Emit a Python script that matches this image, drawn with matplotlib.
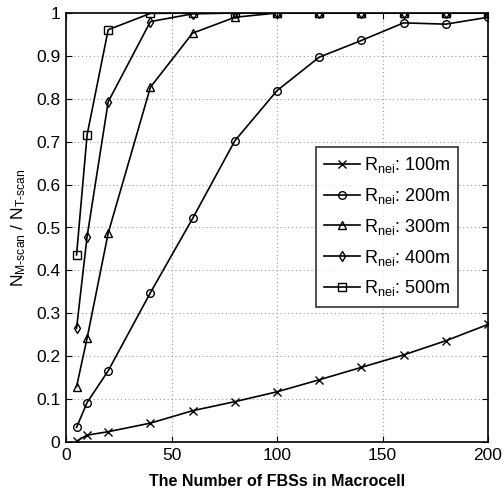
import matplotlib
matplotlib.use("Agg")
import matplotlib.pyplot as plt

plt.rcParams["font.family"] = ["Liberation Sans", "DejaVu Sans"]
plt.rcParams["mathtext.fontset"] = "custom"
plt.rcParams["mathtext.rm"] = "Liberation Sans"
plt.rcParams["mathtext.it"] = "Liberation Sans"

# === DATA ===
n_fbs = [5, 10, 20, 40, 60, 80, 100, 120, 140, 160, 180, 200]
r100 = [0.002, 0.016, 0.024, 0.044, 0.073, 0.094, 0.117, 0.145, 0.174, 0.203, 0.236, 0.274]
r200 = [0.034, 0.092, 0.166, 0.348, 0.521, 0.702, 0.819, 0.897, 0.936, 0.977, 0.974, 0.99]
r300 = [0.129, 0.242, 0.487, 0.827, 0.953, 0.99, 1.0, 1.0, 1.0, 1.0, 1.0, 1.0]
r400 = [0.265, 0.479, 0.793, 0.98, 0.998, 1.0, 1.0, 1.0, 1.0, 1.0, 1.0, 1.0]
r500 = [0.436, 0.716, 0.961, 0.999, 1.0, 1.0, 1.0, 1.0, 1.0, 1.0, 1.0, 1.0]
labels = ["100m", "200m", "300m", "400m", "500m"]
markers = ["x", "o", "^", "d", "s"]
x_ticks = [0, 50, 100, 150, 200]
y_ticks = [0, 0.1, 0.2, 0.3, 0.4, 0.5, 0.6, 0.7, 0.8, 0.9, 1]
y_tick_labels = ["0", "0.1", "0.2", "0.3", "0.4", "0.5", "0.6", "0.7", "0.8", "0.9", "1"]

fig = plt.figure(figsize=(5.04, 4.94), dpi=100)
ax = fig.add_axes([66 / 504, 1 - 442 / 494, (488 - 66) / 504, (442 - 13) / 494])

for ys, lab, mk in zip([r100, r200, r300, r400, r500], labels, markers):
    ax.plot(n_fbs, ys, color="black", linewidth=1.2, marker=mk,
            markersize=5.5 if mk != "d" else 5, markerfacecolor="none",
            markeredgecolor="black", markeredgewidth=1.0,
            label=r"R$_{\mathrm{nei}}$: " + lab)

ax.set_xlim(0, 200)
ax.set_ylim(0, 1)
ax.set_xticks(x_ticks)
ax.set_yticks(y_ticks)
ax.set_yticklabels(y_tick_labels)
ax.tick_params(direction="in", top=True, right=True, labelsize=12.5, length=4, pad=4)
ax.grid(True, linestyle=(0, (1, 2.5)), color="#999999", linewidth=0.8)
for sp in ax.spines.values():
    sp.set_linewidth(1.2)

ax.set_xlabel("The Number of FBSs in Macrocell", fontsize=11.5, fontweight="bold", labelpad=8)
ax.set_ylabel(r"N$_{\mathrm{M\text{-}scan}}$ / N$_{\mathrm{T\text{-}scan}}$", fontsize=12.5, labelpad=6)

leg = ax.legend(loc="upper left", bbox_to_anchor=((316 - 66) / 422, (442 - 147) / 429),
                fontsize=13, frameon=True, fancybox=False, edgecolor="black",
                handlelength=2.0, handletextpad=0.2, labelspacing=0.6,
                borderpad=0.45, borderaxespad=0)
leg.get_frame().set_linewidth(1.2)

fig.savefig("out.png", dpi=100)
